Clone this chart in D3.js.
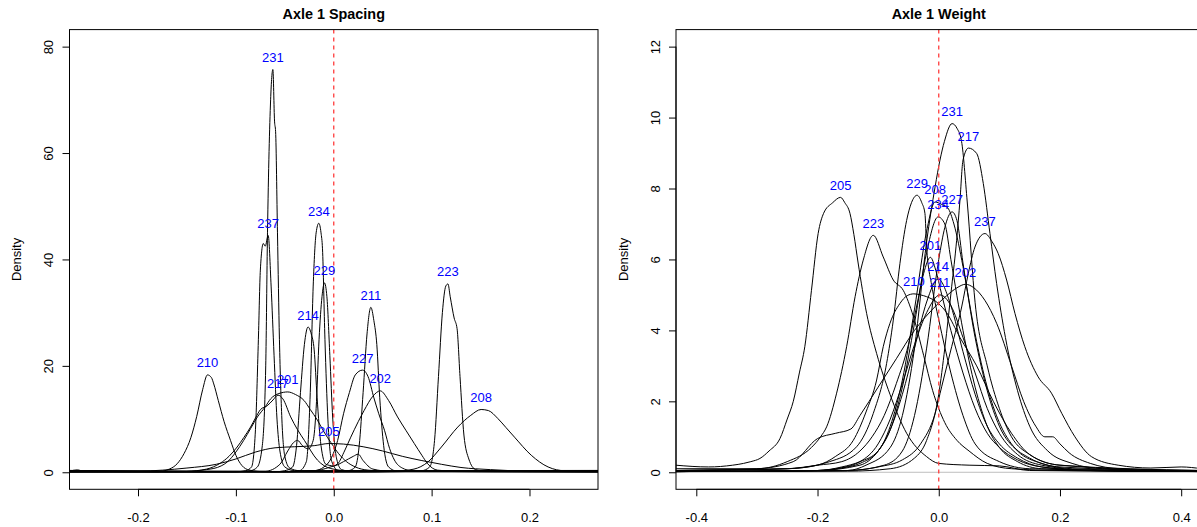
<!DOCTYPE html>
<html><head><meta charset="utf-8">
<script src="https://cdn.jsdelivr.net/npm/d3@7"></script>
<style>
body{margin:0;background:#fff}
svg{display:block;font-family:"Liberation Sans",Arial,Helvetica,sans-serif}
</style>
</head><body>
<svg id="chart" width="1197" height="527"></svg>
<script>
// ---------- categories ----------
const ids = ["201","202","205","208","210","211","214","217","223","227","229","231","234","237"];
const panelTitles = ["Axle 1 Spacing", "Axle 1 Weight"];
const spacingXTicks = [-0.2, -0.1, 0.0, 0.1, 0.2];
const spacingYTicks = [0, 20, 40, 60, 80];
const weightXTicks = [-0.4, -0.2, 0.0, 0.2, 0.4];
const weightYTicks = [0, 2, 4, 6, 8, 10, 12];
const yLabel = "Density";

// ---------- Axle 1 Spacing density curves [x, density] ----------
const sp201 = [[-0.27,0.3],[-0.2,0.15],[-0.16,0.1],[-0.13,0.5],[-0.115,1.2],[-0.109,1.9],[-0.1,3.8],[-0.092,6],[-0.085,8.2],[-0.078,10.4],[-0.07,12.3],[-0.0645,13.8],[-0.056,14.8],[-0.047,15.1],[-0.039,14.6],[-0.0304,13.5],[-0.024,11.8],[-0.0167,9.8],[-0.01,7.6],[-0.003,5.6],[0.005,3.5],[0.013,2],[0.022,1],[0.035,0.4],[0.06,0.15],[0.27,0.1]];
const sp202 = [[-0.27,0.1],[-0.05,0.1],[-0.02,0.3],[-0.005,0.9],[0.004,1.6],[0.011,4],[0.0174,6.6],[0.025,9.5],[0.031,11.6],[0.04,14.3],[0.0475,15.3],[0.056,13.5],[0.0652,10.4],[0.074,7.8],[0.0823,5.4],[0.09,3.2],[0.096,1.6],[0.106,0.4],[0.13,0.15],[0.27,0.2]];
const sp205 = [[-0.27,0.1],[-0.2,0.2],[-0.15,0.8],[-0.12,1.5],[-0.1,2.5],[-0.08,3.8],[-0.06,4.6],[-0.04,4.8],[-0.02,5],[-0.005,5.4],[0.01,5.3],[0.03,4.8],[0.05,4],[0.07,3],[0.09,2.2],[0.11,1.5],[0.13,0.9],[0.16,0.5],[0.2,0.2],[0.27,0.1]];
const sp208 = [[-0.27,0.05],[0.03,0.05],[0.06,0.15],[0.082,0.6],[0.096,1.9],[0.11,4.75],[0.1267,8.5],[0.14,10.7],[0.1506,11.8],[0.158,11.6],[0.1677,10.1],[0.176,8.4],[0.1847,6.6],[0.2018,3.2],[0.219,1.0],[0.236,0.3],[0.27,0.3]];
const sp210 = [[-0.27,0.2],[-0.262,0.45],[-0.255,0.15],[-0.18,0.1],[-0.168,0.6],[-0.16,1.6],[-0.153,3.5],[-0.146,6.5],[-0.14,10.5],[-0.134,15.5],[-0.129,18.3],[-0.125,17.8],[-0.1226,16.6],[-0.118,13.5],[-0.112,9.5],[-0.1055,6],[-0.1,3.2],[-0.094,1.3],[-0.086,0.4],[-0.07,0.1],[0.27,0.1]];
const sp211 = [[-0.27,0.15],[0,0.1],[0.015,0.3],[0.022,1],[0.026,5],[0.03,15],[0.034,26],[0.0379,31],[0.041,28.5],[0.044,24],[0.047,14],[0.051,5],[0.056,1],[0.065,0.2],[0.27,0.05]];
const sp214 = [[-0.27,0.25],[-0.06,0.1],[-0.05,0.3],[-0.042,1],[-0.038,5],[-0.034,15],[-0.03,24],[-0.0263,27.3],[-0.023,26],[-0.02,23],[-0.017,14],[-0.013,5],[-0.008,1.5],[0.0,1.2],[0.01,2],[0.02,3],[0.025,3.4],[0.03,2.2],[0.04,0.6],[0.06,0.15],[0.27,0.15]];
const sp217 = [[-0.27,0.35],[-0.2,0.25],[-0.15,0.2],[-0.13,0.6],[-0.116,1.7],[-0.107,3],[-0.0987,4.75],[-0.092,6.5],[-0.085,8.5],[-0.08,10.2],[-0.0748,11.8],[-0.068,12.5],[-0.062,13.6],[-0.057,14.5],[-0.052,13.8],[-0.044,10.4],[-0.037,8],[-0.03,6],[-0.0167,2.3],[-0.003,0.7],[0.02,0.2],[0.27,0.1]];
const sp223 = [[-0.27,0.05],[0.06,0.1],[0.09,0.3],[0.098,1],[0.103,6],[0.107,18],[0.111,30],[0.1145,35],[0.1167,35.4],[0.119,33],[0.123,29],[0.126,27],[0.129,18],[0.133,7],[0.138,2.5],[0.145,0.5],[0.155,0.2],[0.27,0.25]];
const sp227 = [[-0.27,0.1],[-0.05,0.1],[-0.02,0.3],[-0.01,1],[-0.003,2.5],[0.004,6],[0.01,11],[0.016,15],[0.022,18.3],[0.0294,19.2],[0.035,18],[0.041,14],[0.046,11],[0.052,7.8],[0.057,4.5],[0.062,2.3],[0.07,0.8],[0.08,0.3],[0.27,0.35]];
const sp229 = [[-0.27,0.2],[-0.07,0.2],[-0.055,1.5],[-0.047,4],[-0.041,5.6],[-0.037,6],[-0.032,5],[-0.026,4.4],[-0.021,6],[-0.018,12],[-0.015,25],[-0.012,33],[-0.0095,35.6],[-0.007,33],[-0.004,22],[-0.001,10],[0.003,2.5],[0.008,0.5],[0.02,0.15],[0.27,0.2]];
const sp231 = [[-0.27,0.1],[-0.1,0.1],[-0.085,0.3],[-0.078,1],[-0.073,5],[-0.0695,20],[-0.0677,45],[-0.0645,70],[-0.0622,75.7],[-0.0605,66],[-0.0594,64],[-0.0575,45],[-0.0555,25],[-0.053,10],[-0.05,3],[-0.045,0.8],[-0.035,0.3],[0.27,0.3]];
const sp234 = [[-0.27,0.3],[-0.05,0.15],[-0.035,0.3],[-0.028,2],[-0.024,15],[-0.021,35],[-0.018,45],[-0.0153,46.8],[-0.013,45],[-0.0115,42],[-0.009,25],[-0.006,10],[-0.002,2],[0.005,0.3],[0.27,0.1]];
const sp237 = [[-0.27,0.15],[-0.1,0.1],[-0.09,0.3],[-0.084,1],[-0.08,8],[-0.077,25],[-0.075,38],[-0.072,43],[-0.07,42.5],[-0.067,44.5],[-0.064,35],[-0.061,22],[-0.058,10],[-0.055,4],[-0.05,1],[-0.04,0.3],[0.27,0.2]];

// ---------- Axle 1 Weight density curves [x, density] ----------
const w201 = [[-0.434,0.05],[-0.25,0.1],[-0.2,0.2],[-0.16,0.3],[-0.13,0.6],[-0.11,1],[-0.09,1.6],[-0.07,2.5],[-0.05,3.6],[-0.035,4.8],[-0.025,5.6],[-0.0138,6.06],[-0.005,5.7],[0.005,5.0],[0.02,4.0],[0.04,2.8],[0.06,1.8],[0.08,1.1],[0.1,0.7],[0.13,0.35],[0.17,0.15],[0.25,0.05],[0.434,0.02]];
const w202 = [[-0.434,0.05],[-0.3,0.1],[-0.24,0.3],[-0.2,0.95],[-0.17,1.1],[-0.145,1.22],[-0.13,1.6],[-0.1,2.4],[-0.07,3.2],[-0.04,4.0],[-0.01,4.6],[0.0125,4.97],[0.03,5.2],[0.044,5.3],[0.058,5.2],[0.076,4.85],[0.0955,4.2],[0.12,3.0],[0.14,2.0],[0.16,1.3],[0.175,1.0],[0.188,1.0],[0.2,0.8],[0.215,0.55],[0.25,0.25],[0.3,0.1],[0.434,0.05]];
const w205 = [[-0.434,0.2],[-0.38,0.15],[-0.34,0.2],[-0.322,0.25],[-0.31,0.3],[-0.295,0.39],[-0.28,0.6],[-0.262,0.95],[-0.25,1.5],[-0.24,2.0],[-0.23,2.8],[-0.221,3.54],[-0.21,5.13],[-0.199,6.73],[-0.19,7.3],[-0.175,7.6],[-0.162,7.75],[-0.155,7.6],[-0.1465,7.3],[-0.14,6.7],[-0.133,5.9],[-0.119,4.48],[-0.1025,3.35],[-0.0805,2.2],[-0.053,1.1],[-0.02,0.44],[0.0,0.25],[0.05,0.2],[0.1,0.18],[0.15,0.05],[0.434,0.02]];
const w208 = [[-0.434,0.02],[-0.2,0.05],[-0.16,0.15],[-0.13,0.3],[-0.1,0.6],[-0.08,1.3],[-0.06,2.6],[-0.04,4.6],[-0.02,6.8],[-0.006,7.62],[0.005,7.55],[0.015,7.45],[0.025,7.0],[0.04,5.8],[0.06,3.8],[0.08,2.3],[0.1,1.3],[0.13,0.6],[0.17,0.25],[0.22,0.1],[0.434,0.02]];
const w210 = [[-0.434,0.05],[-0.25,0.1],[-0.2,0.2],[-0.17,0.45],[-0.141,0.9],[-0.12,1.7],[-0.1025,2.6],[-0.0916,3.54],[-0.0805,4.2],[-0.064,4.76],[-0.052,4.98],[-0.041,5.03],[-0.03,5.0],[-0.02,4.95],[0.0,4.75],[0.013,4.5],[0.035,3.8],[0.0625,3.0],[0.09,2.0],[0.12,1.1],[0.15,0.5],[0.2,0.2],[0.434,0.05]];
const w211 = [[-0.434,0.02],[-0.2,0.05],[-0.17,0.1],[-0.13,0.3],[-0.1,0.8],[-0.08,1.5],[-0.06,2.5],[-0.04,3.6],[-0.02,4.5],[0.002,5.0],[0.02,4.7],[0.04,3.8],[0.06,2.8],[0.08,1.8],[0.1,1.1],[0.13,0.5],[0.17,0.2],[0.25,0.05],[0.434,0.02]];
const w214 = [[-0.434,0.02],[-0.2,0.05],[-0.16,0.12],[-0.13,0.25],[-0.1,0.6],[-0.08,1.2],[-0.06,2.2],[-0.04,3.5],[-0.02,4.8],[-0.001,5.45],[0.02,4.7],[0.04,3.4],[0.06,2.2],[0.08,1.3],[0.1,0.8],[0.13,0.4],[0.17,0.15],[0.25,0.05],[0.434,0.02]];
const w217 = [[-0.434,0.02],[-0.15,0.03],[-0.08,0.1],[-0.04,0.4],[-0.02,0.9],[0.0,2.2],[0.01,3.5],[0.0213,5.23],[0.0295,6.54],[0.035,7.67],[0.04,8.8],[0.049,9.14],[0.0625,8.99],[0.0735,8.14],[0.0845,6.73],[0.0955,5.32],[0.11,3.8],[0.13,2.3],[0.15,1.3],[0.18,0.6],[0.22,0.25],[0.27,0.1],[0.434,0.02]];
const w223 = [[-0.434,0.1],[-0.3,0.1],[-0.25,0.3],[-0.21,0.7],[-0.195,1.0],[-0.185,1.28],[-0.1685,2.23],[-0.152,3.54],[-0.138,4.95],[-0.1246,5.98],[-0.108,6.68],[-0.0916,6.07],[-0.075,5.42],[-0.0586,5.13],[-0.042,4.4],[-0.025,3.3],[-0.01,2.3],[0.01,1.4],[0.03,0.9],[0.05,0.6],[0.08,0.25],[0.12,0.1],[0.2,0.05],[0.434,0.02]];
const w227 = [[-0.434,0.02],[-0.15,0.05],[-0.09,0.2],[-0.06,0.6],[-0.04,1.6],[-0.02,3.5],[0.0,6.0],[0.01,6.9],[0.022,7.34],[0.03,7.1],[0.04,5.9],[0.06,3.9],[0.08,2.4],[0.1,1.4],[0.12,0.8],[0.15,0.4],[0.2,0.15],[0.434,0.02]];
const w229 = [[-0.434,0.05],[-0.25,0.1],[-0.18,0.3],[-0.1355,0.72],[-0.108,1.66],[-0.086,3.07],[-0.075,4.29],[-0.064,5.89],[-0.053,7.1],[-0.045,7.6],[-0.0358,7.81],[-0.028,7.6],[-0.0228,7.3],[-0.02,6.35],[-0.012,5.3],[-0.006,4.78],[0.0,4.3],[0.02,2.8],[0.04,1.6],[0.06,0.8],[0.1,0.3],[0.15,0.1],[0.434,0.02]];
const w231 = [[-0.434,0.02],[-0.15,0.05],[-0.12,0.2],[-0.08,0.7],[-0.06,1.6],[-0.04,3.5],[-0.02,6.5],[-0.006,8.05],[0.002,8.8],[0.0094,9.33],[0.022,9.83],[0.03,9.7],[0.0376,9.33],[0.047,7.62],[0.06,4.78],[0.08,3.0],[0.1,1.8],[0.12,1.0],[0.15,0.5],[0.2,0.2],[0.434,0.02]];
const w234 = [[-0.434,0.02],[-0.2,0.05],[-0.13,0.2],[-0.1,0.6],[-0.08,1.2],[-0.06,2.4],[-0.04,4.2],[-0.02,6.2],[-0.001,7.2],[0.01,7.0],[0.02,6.0],[0.04,4.0],[0.06,2.4],[0.08,1.3],[0.1,0.7],[0.13,0.3],[0.17,0.1],[0.434,0.02]];
const w237 = [[-0.434,0.02],[-0.15,0.05],[-0.1,0.15],[-0.06,0.35],[-0.03,0.8],[-0.006,1.66],[0.0048,2.41],[0.0213,3.54],[0.0378,4.66],[0.0487,5.6],[0.0597,6.35],[0.0762,6.73],[0.088,6.5],[0.098,6.17],[0.112,5.42],[0.1257,4.48],[0.142,3.54],[0.164,2.69],[0.186,2.23],[0.203,1.66],[0.2247,1.0],[0.252,0.44],[0.296,0.2],[0.35,0.12],[0.4,0.15],[0.434,0.1]];

const spacingCurves = [sp201, sp202, sp205, sp208, sp210, sp211, sp214, sp217, sp223, sp227, sp229, sp231, sp234, sp237];
const weightCurves  = [w201, w202, w205, w208, w210, w211, w214, w217, w223, w227, w229, w231, w234, w237];

// ---------- drawing ----------
const svg = d3.select("#chart");
const plotTop = 29.6, plotBottom = 489.3;
const FONT = '"Liberation Sans",Arial,sans-serif';

function panel(opts, idx) {
  const x = d3.scaleLinear().domain(opts.xDomain).range([opts.left, opts.right]);
  const y = d3.scaleLinear().domain(opts.yDomain).range([plotBottom, plotTop]);
  const g = svg.append("g");
  const clipId = "clip" + idx;
  g.append("clipPath").attr("id", clipId).append("rect")
    .attr("x", opts.left).attr("y", plotTop).attr("width", opts.right - opts.left).attr("height", plotBottom - plotTop);

  const plot = g.append("g").attr("clip-path", `url(#${clipId})`);
  plot.append("line").attr("x1", opts.left).attr("x2", opts.right)
    .attr("y1", y(0)).attr("y2", y(0)).attr("stroke", "#bebebe").attr("stroke-width", 1);
  const line = d3.line().x(d => x(d[0])).y(d => y(d[1])).curve(d3.curveMonotoneX);
  opts.curves.forEach(c => {
    plot.append("path").attr("d", line(c)).attr("fill", "none")
      .attr("stroke", "#000").attr("stroke-width", 1).attr("stroke-linejoin", "round");
  });
  plot.append("line").attr("x1", x(0)).attr("x2", x(0)).attr("y1", plotTop).attr("y2", plotBottom)
    .attr("stroke", "#ff3b3b").attr("stroke-width", 1.3).attr("stroke-dasharray", "4,4");
  opts.curves.forEach((c, i) => {
    const pk = d3.greatest(c, d => d[1]);
    plot.append("text").attr("x", x(pk[0])).attr("y", y(pk[1]) - 7.5)
      .attr("text-anchor", "middle").attr("font-size", 13).attr("fill", "#0000ff")
      .text(ids[i]);
  });

  g.append("rect").attr("x", opts.left).attr("y", plotTop)
    .attr("width", opts.right - opts.left).attr("height", plotBottom - plotTop)
    .attr("fill", "none").attr("stroke", "#000").attr("stroke-width", 1);

  const xa = g.append("g").attr("transform", `translate(0,${plotBottom})`)
    .call(d3.axisBottom(x).tickValues(opts.xTicks).tickSize(7).tickFormat(d => d.toFixed(1)));
  xa.select(".domain").remove();
  xa.append("line").attr("x1", x(opts.xTicks[0])).attr("x2", x(opts.xTicks[opts.xTicks.length - 1]))
    .attr("y1", 0).attr("y2", 0).attr("stroke", "#000");
  xa.selectAll("text").attr("y", 33).attr("dy", null).attr("font-size", 13)
    .attr("font-family", FONT).attr("fill", "#000");

  const ya = g.append("g").attr("transform", `translate(${opts.left},0)`)
    .call(d3.axisLeft(y).tickValues(opts.yTicks).tickSize(7).tickFormat(d3.format("d")));
  ya.select(".domain").remove();
  ya.append("line").attr("x1", 0).attr("x2", 0)
    .attr("y1", y(opts.yTicks[0])).attr("y2", y(opts.yTicks[opts.yTicks.length - 1])).attr("stroke", "#000");
  ya.selectAll("text").attr("x", null).attr("dy", null).attr("y", null)
    .attr("transform", "translate(-16.5,0) rotate(-90)").attr("text-anchor", "middle")
    .attr("font-size", 13).attr("font-family", FONT).attr("fill", "#000");

  g.append("text").attr("transform", `translate(${opts.left - 48.5},${(plotTop + plotBottom) / 2}) rotate(-90)`)
    .attr("text-anchor", "middle").attr("font-size", 13).text(yLabel);

  g.append("text").attr("x", (opts.left + opts.right) / 2).attr("y", 19)
    .attr("text-anchor", "middle").attr("font-size", 14.4).attr("font-weight", "bold")
    .text(opts.title);
}

panel({left: 69.5, right: 598, xDomain: [-0.27, 0.27], yDomain: [-3.2, 83.2],
       xTicks: spacingXTicks, yTicks: spacingYTicks, curves: spacingCurves, title: panelTitles[0]}, 0);
panel({left: 676, right: 1201.5, xDomain: [-0.4335, 0.4335], yDomain: [-0.48, 12.48],
       xTicks: weightXTicks, yTicks: weightYTicks, curves: weightCurves, title: panelTitles[1]}, 1);
</script>
</body></html>
